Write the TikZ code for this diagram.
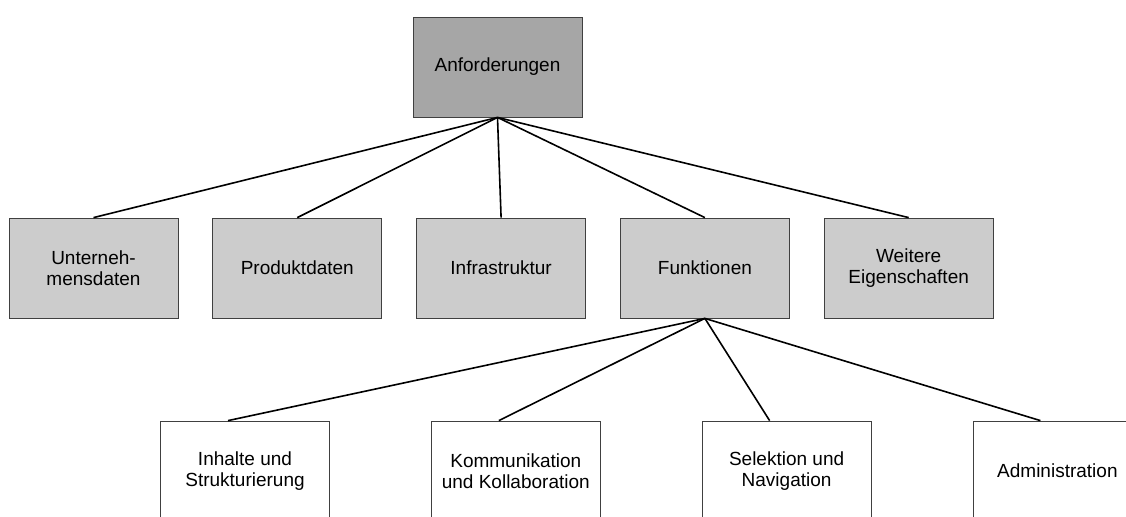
\documentclass[tikz,border=0pt]{standalone}
\usepackage{fontspec}
\setmainfont{Liberation Sans}
\usepackage{tikz}
\usetikzlibrary{positioning, calc}

\begin{document}
\begin{tikzpicture}[
    x=0.5pt, y=-0.5pt,
    topbox/.style={draw=black!75, fill=black!35, minimum width=84.5pt, minimum height=50pt, inner sep=2pt, align=center, font=\fontsize{9.5}{10.5}\selectfont},
    catbox/.style={topbox, fill=black!20},
    subbox/.style={topbox, fill=white},
    link/.style={line width=0.8pt},
    ]
    \useasboundingbox (0,0) rectangle (1126,516);

    % root (top)
    \node[topbox] (anf) at (497.5, 67) {Anforderungen};

    % second row
    \node[catbox] (unt) at (93.5, 268) {Unterneh-\\mensdaten};
    \node[catbox, right=17pt of unt] (prod) {Produktdaten};
    \node[catbox, right=17pt of prod] (infra) {Infrastruktur};
    \node[catbox, right=17pt of infra] (funk) {Funktionen};
    \node[catbox, right=17pt of funk] (weit) {Weitere\\Eigenschaften};

    % third row (below Funktionen, cut at the bottom)
    \begin{scope}
    \clip (0,0) rectangle (1126,516);
    \node[subbox] (inh) at (245, 471) {Inhalte und\\Strukturierung};
    \node[subbox, right=50.5pt of inh] (kom) {Kommunikation\\und Kollaboration};
    \node[subbox, right=50.5pt of kom] (sel) {Selektion und\\Navigation};
    \node[subbox, right=50.5pt of sel] (adm) {Administration};
    \end{scope}

    % lines
    \foreach \n in {unt, prod, infra, funk, weit}
        \draw[link] (anf.south) -- (\n.north);
    \foreach \n in {inh, kom, sel, adm}
        \draw[link] (funk.south) -- ($(\n.north west)!0.4!(\n.north east)$);
\end{tikzpicture}
\end{document}
